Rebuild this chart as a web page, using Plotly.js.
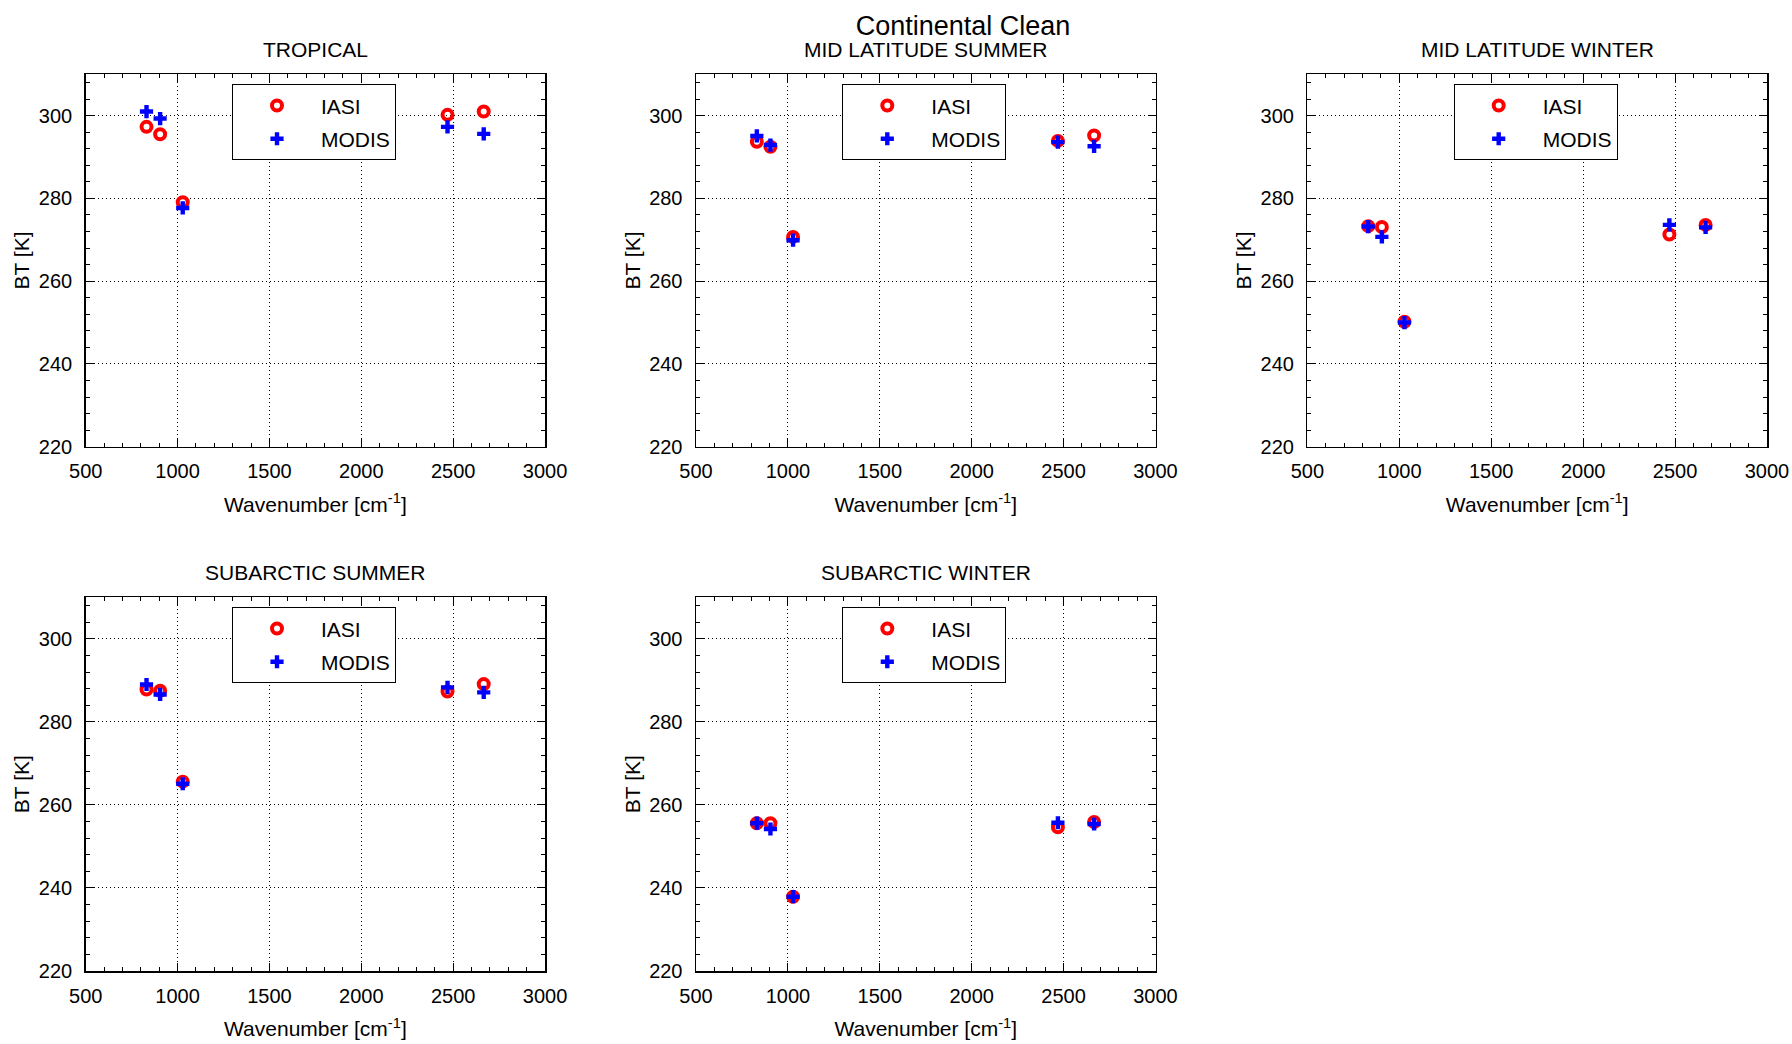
<!DOCTYPE html>
<html><head><meta charset="utf-8">
<script src="https://cdn.plot.ly/plotly-3.0.1.min.js"></script>
<style>html,body{margin:0;padding:0;background:#fff}#chart{width:1792px;height:1044px}</style>
</head><body><div id="chart"></div>
<script>
// ---- data ----
const wavenumber = [831, 905, 1028, 2469, 2666];
const panelTitles = ['TROPICAL', 'MID LATITUDE SUMMER', 'MID LATITUDE WINTER', 'SUBARCTIC SUMMER', 'SUBARCTIC WINTER'];
const iasiTropical = [297.3, 295.5, 279.1, 300.2, 301.0];
const modisTropical = [301.0, 299.3, 277.7, 297.3, 295.6];
const iasiMidLatSummer = [293.7, 292.5, 270.7, 293.9, 295.2];
const modisMidLatSummer = [295.1, 292.9, 269.9, 293.6, 292.6];
const iasiMidLatWinter = [273.3, 273.1, 250.2, 271.3, 273.6];
const modisMidLatWinter = [273.2, 270.7, 250.0, 273.6, 273.0];
const iasiSubarcticSummer = [287.8, 287.5, 265.6, 287.3, 289.1];
const modisSubarcticSummer = [289.0, 286.6, 265.1, 288.3, 287.1];
const iasiSubarcticWinter = [255.6, 255.6, 237.9, 254.6, 255.9];
const modisSubarcticWinter = [255.6, 254.2, 237.9, 255.7, 255.4];
const seriesNames = ['IASI', 'MODIS'];
const mainTitle = 'Continental Clean';
const xTitle = 'Wavenumber [cm<sup>-1</sup>]';
const yTitle = 'BT [K]';

const iasiSets = [iasiTropical, iasiMidLatSummer, iasiMidLatWinter, iasiSubarcticSummer, iasiSubarcticWinter];
const modisSets = [modisTropical, modisMidLatSummer, modisMidLatWinter, modisSubarcticSummer, modisSubarcticWinter];

// ---- layout geometry ----
const W = 1792, H = 1044;
const colX = [[85.7, 545.1], [696.0, 1155.5], [1307.4, 1767.0]];
const rowY = [[74.3, 446.7], [597.3, 971.0]];
const panelPos = [[0, 0], [0, 1], [0, 2], [1, 0], [1, 1]];
const FONT = 'Liberation Sans, Arial, Helvetica, sans-serif';

const traces = [];
const layout = {
  width: W, height: H,
  margin: {l: 0, r: 0, t: 0, b: 0},
  paper_bgcolor: '#fff', plot_bgcolor: '#fff',
  font: {family: FONT, color: '#000', size: 20},
  showlegend: true,
  title: {text: mainTitle, x: 963 / W, xanchor: 'center', y: 1 - 26 / H, yanchor: 'middle',
          font: {family: FONT, size: 27, color: '#000'}},
  annotations: []
};

panelPos.forEach(([r, c], i) => {
  const n = i + 1;
  const xa = 'x' + (n === 1 ? '' : n), ya = 'y' + (n === 1 ? '' : n);
  const lg = 'legend' + (n === 1 ? '' : n);
  traces.push({
    type: 'scatter', mode: 'markers', x: wavenumber, y: iasiSets[i], name: seriesNames[0],
    xaxis: xa, yaxis: ya, legend: lg, legendgroup: 'a' + n, cliponaxis: false,
    marker: {symbol: 'circle-open', size: 10, color: '#ff0000', line: {color: '#ff0000', width: 4}}
  });
  traces.push({
    type: 'scatter', mode: 'markers', x: wavenumber, y: modisSets[i], name: seriesNames[1],
    xaxis: xa, yaxis: ya, legend: lg, legendgroup: 'b' + n, cliponaxis: false,
    marker: {symbol: 'cross', size: 11, color: '#0000ff', line: {width: 0}}
  });
  const xd = [colX[c][0] / W, colX[c][1] / W];
  const yd = [1 - rowY[r][1] / H, 1 - rowY[r][0] / H];
  const common = {
    showline: true, linecolor: '#000', linewidth: 1.5, mirror: 'ticks',
    ticks: 'inside', ticklen: 8, tickwidth: 1, tickcolor: '#000',
    showgrid: true, gridcolor: '#000', gridwidth: 1, griddash: '1px,3px',
    zeroline: false, tickfont: {family: FONT, size: 20, color: '#000'}
  };
  layout['xaxis' + (n === 1 ? '' : n)] = Object.assign({}, common, {
    domain: xd, anchor: ya, range: [500, 3000], tick0: 500, dtick: 500, ticklabelstandoff: 6,
    minor: {dtick: 100, ticks: 'inside', ticklen: 4, tickwidth: 1, tickcolor: '#000', showgrid: false},
    title: {text: xTitle, font: {family: FONT, size: 21, color: '#000'}, standoff: 16}
  });
  layout['yaxis' + (n === 1 ? '' : n)] = Object.assign({}, common, {
    domain: yd, anchor: xa, range: [220, 310], tick0: 220, dtick: 20, ticklabelstandoff: 8,
    minor: {tick0: 220, dtick: 4, ticks: 'inside', ticklen: 4, tickwidth: 1, tickcolor: '#000', showgrid: false},
    title: {text: yTitle, font: {family: FONT, size: 21, color: '#000'}, standoff: 3}
  });
  layout[lg] = {
    x: (colX[c][0] + 146.3) / W, y: 1 - (rowY[r][0] + 10) / H, xanchor: 'left', yanchor: 'top',
    bgcolor: '#fff', bordercolor: '#000', borderwidth: 1,
    font: {family: FONT, size: 21, color: '#000'},
    itemwidth: 78, traceorder: 'grouped', tracegroupgap: 3
  };
  layout.annotations.push({
    text: panelTitles[i], xref: 'paper', yref: 'paper', showarrow: false,
    x: (xd[0] + xd[1]) / 2, xanchor: 'center',
    y: 1 - (rowY[r][0] - 25) / H, yanchor: 'middle',
    font: {family: FONT, size: 21, color: '#000'}
  });
});

Plotly.newPlot('chart', traces, layout, {displayModeBar: false, staticPlot: true});
</script></body></html>
